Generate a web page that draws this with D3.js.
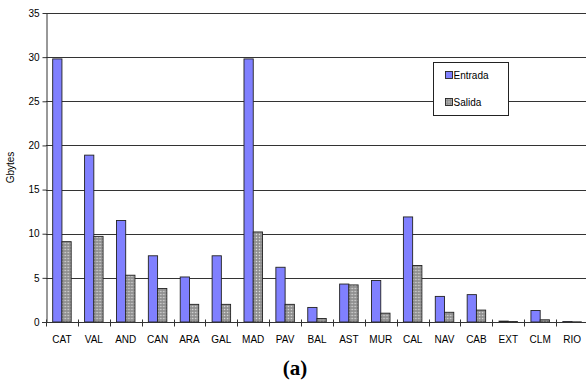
<!DOCTYPE html>
<html>
<head>
<meta charset="utf-8">
<script src="https://cdn.jsdelivr.net/npm/d3@7"></script>
<style>
  body { margin: 0; background: #fff; }
  svg { display: block; font-family: "Liberation Sans", Arial, sans-serif; }
</style>
</head>
<body>
<div class="vis-bars"></div>
<script>
const categories = ["CAT", "VAL", "AND", "CAN", "ARA", "GAL", "MAD", "PAV", "BAL", "AST", "MUR", "CAL", "NAV", "CAB", "EXT", "CLM", "RIO"];
const entrada = [29.8, 18.9, 11.5, 7.5, 5.1, 7.5, 29.8, 6.2, 1.65, 4.3, 4.7, 11.9, 2.9, 3.1, 0.1, 1.3, 0.05];
const salida = [9.1, 9.7, 5.3, 3.8, 2.0, 2.0, 10.2, 2.0, 0.4, 4.2, 1.0, 6.4, 1.1, 1.35, 0.05, 0.25, 0.02];
const seriesNames = ["Entrada", "Salida"];
const yTicks = [0, 5, 10, 15, 20, 25, 30, 35];

const width = 586, height = 387;
const margin = { top: 13, right: -2, bottom: 65, left: 46 };

const svg = d3.select(".vis-bars")
    .append("svg")
    .attr("width", width)
    .attr("height", height);

// dotted grey fill for the second series
const defs = svg.append("defs");
const pat = defs.append("pattern")
    .attr("id", "dots")
    .attr("width", 3)
    .attr("height", 3)
    .attr("patternUnits", "userSpaceOnUse");
pat.append("rect").attr("width", 3).attr("height", 3).attr("fill", "#9c9c9c");
pat.append("rect").attr("x", 0).attr("y", 0).attr("width", 1).attr("height", 1).attr("fill", "#dcdcdc");
pat.append("rect").attr("x", 1.5).attr("y", 1.5).attr("width", 1).attr("height", 1).attr("fill", "#6e6e6e");

const x = d3.scaleBand()
    .domain(categories)
    .range([margin.left, width - margin.right]);

const y = d3.scaleLinear()
    .domain([0, 35])
    .range([height - margin.bottom, margin.top]);

// gridlines
svg.append("g")
    .selectAll("line")
    .data(yTicks.filter(d => d > 0))
    .join("line")
    .attr("x1", margin.left)
    .attr("x2", width)
    .attr("y1", d => Math.round(y(d)) + 0.5)
    .attr("y2", d => Math.round(y(d)) + 0.5)
    .attr("stroke", "#333")
    .attr("stroke-width", 1);

// y axis
const yAxis = svg.append("g")
    .attr("transform", `translate(${margin.left + 0.5},0)`)
    .call(d3.axisLeft(y).tickValues(yTicks).tickSize(4).tickPadding(3).tickSizeOuter(0));
yAxis.select(".domain").attr("stroke", "#333");
yAxis.selectAll(".tick line").attr("stroke", "#333");
yAxis.selectAll(".tick text").attr("font-size", 10).attr("fill", "#000")
    .attr("font-family", "Liberation Sans, Arial, sans-serif");

svg.append("text")
    .attr("transform", `translate(14,${(margin.top + height - margin.bottom) / 2}) rotate(-90)`)
    .attr("text-anchor", "middle")
    .attr("font-size", 10)
    .text("Gbytes");

// bars
const bw = x.bandwidth() * 0.29;
const off = (x.bandwidth() - 2 * bw) / 2;
const groups = svg.append("g")
    .selectAll("g")
    .data(categories)
    .join("g")
    .attr("transform", d => `translate(${x(d) + off},0)`);

groups.append("rect")
    .attr("x", 0)
    .attr("y", (d, i) => y(entrada[i]))
    .attr("width", bw)
    .attr("height", (d, i) => y(0) - y(entrada[i]))
    .attr("fill", "#8080ff")
    .attr("stroke", "#222")
    .attr("stroke-width", 0.9);

groups.append("rect")
    .attr("x", bw)
    .attr("y", (d, i) => y(salida[i]))
    .attr("width", bw)
    .attr("height", (d, i) => y(0) - y(salida[i]))
    .attr("fill", "url(#dots)")
    .attr("stroke", "#222")
    .attr("stroke-width", 0.9);

// x axis
const y0 = Math.round(y(0)) + 0.5;
svg.append("line")
    .attr("x1", margin.left - 4)
    .attr("x2", width)
    .attr("y1", y0)
    .attr("y2", y0)
    .attr("stroke", "#333");

svg.append("g")
    .selectAll("line")
    .data(categories)
    .join("line")
    .attr("x1", d => Math.round(x(d)) + 0.5)
    .attr("x2", d => Math.round(x(d)) + 0.5)
    .attr("y1", y0 - 3)
    .attr("y2", y0 + 4)
    .attr("stroke", "#333");

svg.append("g")
    .selectAll("text")
    .data(categories)
    .join("text")
    .attr("x", d => x(d) + x.bandwidth() / 2)
    .attr("y", 343)
    .attr("text-anchor", "middle")
    .attr("font-size", 10)
    .text(d => d);

// legend
const legend = svg.append("g").attr("transform", "translate(433.5,62.5)");
legend.append("rect")
    .attr("width", 75)
    .attr("height", 53)
    .attr("fill", "#fff")
    .attr("stroke", "#222");
const li = legend.selectAll("g")
    .data(seriesNames)
    .join("g")
    .attr("transform", (d, i) => `translate(12,${9 + i * 27})`);
li.append("rect")
    .attr("width", 7)
    .attr("height", 7)
    .attr("fill", (d, i) => i === 0 ? "#8080ff" : "url(#dots)")
    .attr("stroke", "#222")
    .attr("stroke-width", 0.9);
li.append("text")
    .attr("x", 8)
    .attr("y", 7.5)
    .attr("font-size", 10)
    .text(d => d);

// caption
svg.append("text")
    .attr("x", 295)
    .attr("y", 375)
    .attr("text-anchor", "middle")
    .attr("font-family", "Liberation Serif, Times New Roman, serif")
    .attr("font-weight", "bold")
    .attr("font-size", 21)
    .text("(a)");
</script>
</body>
</html>
